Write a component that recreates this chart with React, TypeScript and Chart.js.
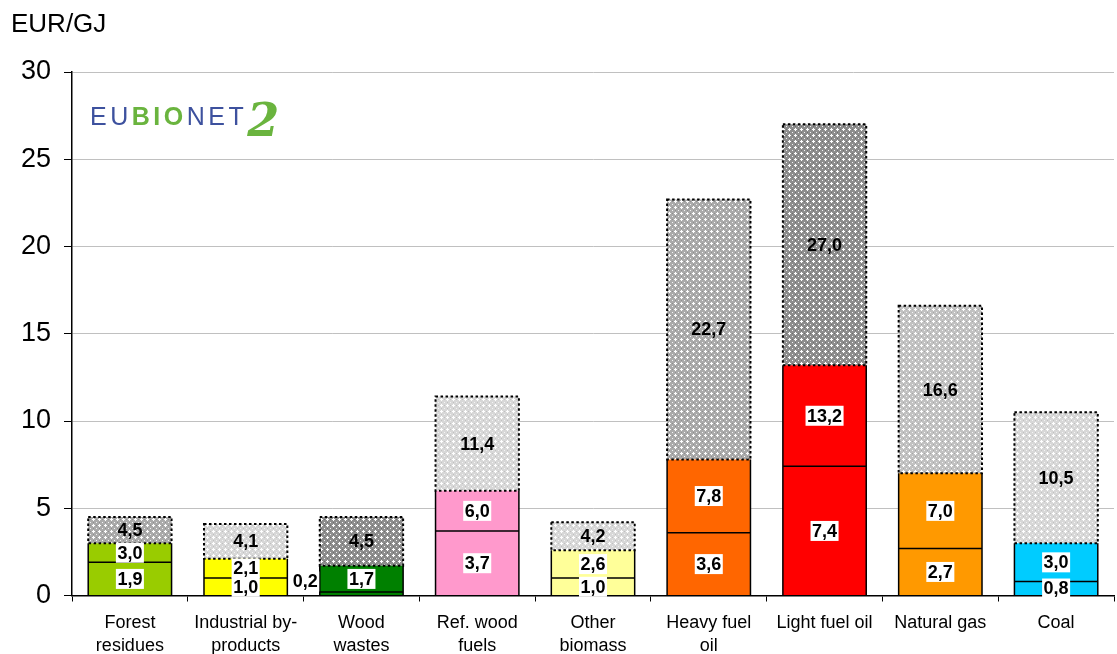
import React, { useEffect, useRef } from "react";
import { Chart, registerables } from "chart.js";
Chart.register(...registerables);

const FONT = "'Liberation Sans', Arial, sans-serif";

const categories: (string | string[])[] = [
  ["Forest", "residues"],
  ["Industrial by-", "products"],
  ["Wood", "wastes"],
  ["Ref. wood", "fuels"],
  ["Other", "biomass"],
  ["Heavy fuel", "oil"],
  "Light fuel oil",
  "Natural gas",
  "Coal",
];
const minPrices = [1.9, 1.0, 0.2, 3.7, 1.0, 3.6, 7.4, 2.7, 0.8];
const avgPrices = [3.0, 2.1, 1.7, 6.0, 2.6, 7.8, 13.2, 7.0, 3.0];
const maxPrices = [4.5, 4.1, 4.5, 11.4, 4.2, 22.7, 27.0, 16.6, 10.5];
const barColors = ["#99CC00", "#FFFF00", "#008000", "#FF99CC", "#FFFF99", "#FF6600", "#FF0000", "#FF9900", "#00CCFF"];
// hatch darkness per category: 0 light, 1 medium-light, 2 medium, 3 dark
const hatchLevel = [2, 0, 3, 0, 0, 2, 3, 1, 0];
const yTicks = [0, 5, 10, 15, 20, 25, 30];
const unitLabel = "EUR/GJ";

const fmt = (v: number) => v.toFixed(1).replace(".", ",");

function makePattern(level: number): CanvasPattern {
  const c = document.createElement("canvas");
  c.width = 6;
  c.height = 6;
  const g = c.getContext("2d")!;
  const bases = ["#d8d8d8", "#c2c2c2", "#ababab", "#8e8e8e"];
  const darks = ["#c0c0c0", "#a6a6a6", "#8e8e8e", "#6e6e6e"];
  g.fillStyle = bases[level];
  g.fillRect(0, 0, 6, 6);
  g.fillStyle = "#ffffff";
  g.fillRect(2, 3, 3, 1);
  g.fillRect(3, 2, 1, 3);
  g.fillStyle = "#f4f4f4";
  g.fillRect(0, 0, 1, 1);
  g.fillStyle = darks[level];
  g.fillRect(0, 3, 1, 1);
  g.fillRect(3, 0, 1, 1);
  return g.createPattern(c, "repeat")!;
}

const decorPlugin = {
  id: "decor",
  afterDatasetsDraw(chart: any) {
    const ctx: CanvasRenderingContext2D = chart.ctx;
    const ys = chart.scales.y;
    const meta = chart.getDatasetMeta(0);
    ctx.save();
    for (let i = 0; i < categories.length; i++) {
      const el = meta.data[i];
      const { x, width } = el.getProps(["x", "width"], true);
      const left = x - width / 2;
      const right = x + width / 2;
      const y0 = ys.getPixelForValue(0);
      const yMin = ys.getPixelForValue(minPrices[i]);
      const yAvg = ys.getPixelForValue(avgPrices[i]);
      const yMax = ys.getPixelForValue(maxPrices[i]);
      ctx.setLineDash([]);
      ctx.strokeStyle = "#000";
      ctx.lineWidth = 1.5;
      ctx.beginPath();
      ctx.moveTo(left, y0);
      ctx.lineTo(left, yAvg);
      ctx.moveTo(right, y0);
      ctx.lineTo(right, yAvg);
      ctx.moveTo(left, yMin);
      ctx.lineTo(right, yMin);
      ctx.stroke();
      ctx.setLineDash([2.5, 2.5]);
      ctx.lineWidth = 2;
      ctx.strokeRect(left, yMax, width, yAvg - yMax);
      ctx.setLineDash([]);

      ctx.font = `bold 18px ${FONT}`;
      ctx.textAlign = "center";
      ctx.textBaseline = "middle";
      const boxLabel = (txt: string, cx: number, cy: number) => {
        const w = ctx.measureText(txt).width + 3;
        ctx.fillStyle = "#fff";
        ctx.fillRect(cx - w / 2, cy - 10, w, 20);
        ctx.fillStyle = "#000";
        ctx.fillText(txt, cx, cy + 1);
      };
      if (y0 - yMin < 10) {
        const txt = fmt(minPrices[i]);
        const w = ctx.measureText(txt).width;
        boxLabel(txt, left - 2 - w / 2, y0 - 14);
      } else {
        boxLabel(fmt(minPrices[i]), x, (y0 + yMin) / 2);
      }
      boxLabel(fmt(avgPrices[i]), x, (yMin + yAvg) / 2);
      ctx.fillStyle = "#000";
      ctx.fillText(fmt(maxPrices[i]), x, (yAvg + yMax) / 2 + 1);
    }
    ctx.restore();
  },
  afterDraw(chart: any) {
    const ctx: CanvasRenderingContext2D = chart.ctx;
    ctx.save();
    ctx.fillStyle = "#000";
    ctx.font = `26px ${FONT}`;
    ctx.textAlign = "left";
    ctx.textBaseline = "middle";
    ctx.fillText(unitLabel, 11, 25);
    const blue = "#3d519e";
    const green = "#6ab43e";
    const parts: [string, boolean][] = [["EU", false], ["BIO", true], ["NET", false]];
    let lx = 90;
    const base = 125;
    ctx.textBaseline = "alphabetic";
    for (const [txt, bold] of parts) {
      ctx.font = `${bold ? "bold " : ""}25px ${FONT}`;
      ctx.fillStyle = bold ? green : blue;
      for (const ch of txt) {
        ctx.fillText(ch, lx, base);
        lx += ctx.measureText(ch).width + 3.5;
      }
    }
    ctx.font = `italic bold 46px 'DejaVu Serif', serif`;
    ctx.fillStyle = green;
    ctx.fillText("2", lx, 136);
    ctx.restore();
  },
};

export default function App() {
  const ref = useRef<HTMLCanvasElement>(null);
  useEffect(() => {
    document.body.style.margin = "0";
    const patterns = hatchLevel.map((l) => makePattern(l));
    const chart = new Chart(ref.current!, {
      type: "bar",
      data: {
        labels: categories,
        datasets: [
          { data: minPrices, backgroundColor: barColors, borderWidth: 0 },
          {
            data: avgPrices.map((a, i) => +(a - minPrices[i]).toFixed(2)),
            backgroundColor: barColors,
            borderWidth: 0,
          },
          {
            data: maxPrices.map((m, i) => +(m - avgPrices[i]).toFixed(2)),
            backgroundColor: patterns,
            borderWidth: 0,
          },
        ],
      },
      options: {
        responsive: false,
        animation: false,
        events: [],
        layout: { padding: { top: 72, right: 3, left: 0, bottom: 0 } },
        plugins: { legend: { display: false }, tooltip: { enabled: false } },
        datasets: { bar: { categoryPercentage: 1, barPercentage: 0.72 } },
        scales: {
          x: {
            stacked: true,
            grid: { drawOnChartArea: false, drawTicks: true, tickLength: 6, color: "#000", tickColor: "#000" },
            border: { color: "#000", width: 1.5 },
            ticks: {
              color: "#000",
              font: { family: FONT, size: 18, lineHeight: 1.28 },
              padding: 10,
              maxRotation: 0,
              autoSkip: false,
            },
            afterFit: (s: any) => {
              s.height = 58.5;
            },
          },
          y: {
            stacked: true,
            min: 0,
            max: 30,
            afterBuildTicks: (s: any) => {
              s.ticks = yTicks.map((v) => ({ value: v }));
            },
            grid: { color: "#c0c0c0", lineWidth: 1, tickLength: 8, tickColor: "#000" },
            border: { color: "#000", width: 1.5 },
            ticks: {
              color: "#000",
              font: { family: FONT, size: 27 },
              padding: 13,
            },
            afterFit: (s: any) => {
              s.width = 72;
            },
          },
        },
      },
      plugins: [decorPlugin],
    });
    return () => chart.destroy();
  }, []);
  return (
    <div style={{ position: "fixed", left: 0, top: 0, width: 1117, height: 654, background: "#fff" }}>
      <canvas ref={ref} width={1117} height={654} />
    </div>
  );
}
